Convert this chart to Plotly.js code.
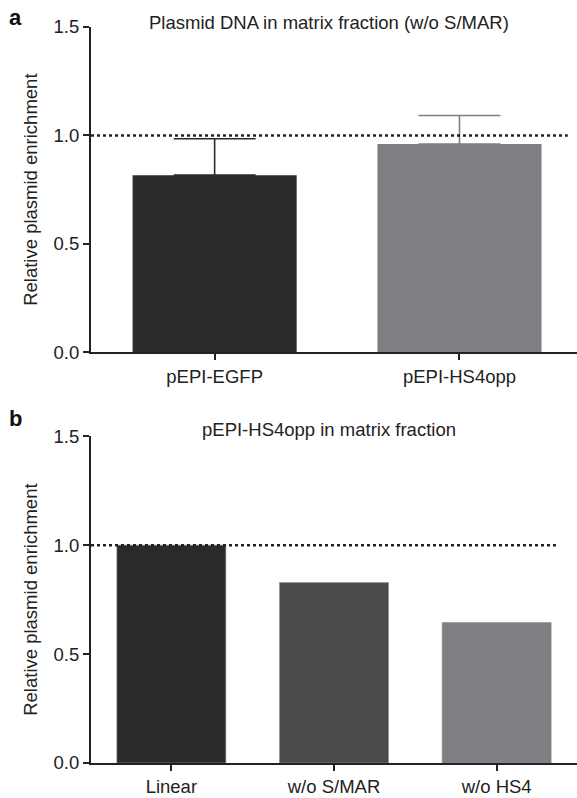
<!DOCTYPE html>
<html>
<head>
<meta charset="utf-8">
<script src="https://cdn.plot.ly/plotly-3.0.1.min.js"></script>
<style>html,body{margin:0;padding:0;background:#fff;}#chart{width:577px;height:798px;}</style>
</head>
<body>
<div id="chart"></div>
<script>
// Panel a data
const catsA = ["pEPI-EGFP", "pEPI-HS4opp"];
const valsA = [0.817, 0.960];
const errA = [0.168, 0.132];
const colorsA = ["#2b2a2c", "#7e7f83"];
const titleA = "Plasmid DNA in matrix fraction (w/o S/MAR)";

// Panel b data
const catsB = ["Linear", "w/o S/MAR", "w/o HS4"];
const valsB = [1.0, 0.828, 0.645];
const colorsB = ["#2a292b", "#4a4a4c", "#7f8084"];
const titleB = "pEPI-HS4opp in matrix fraction";

const refLine = 1.0;
const yTicks = [0, 0.5, 1.0, 1.5];
const yTickText = ["0.0", "0.5", "1.0", "1.5"];
const yTitle = "Relative plasmid enrichment";

const FONT = "Liberation Sans, Arial, Helvetica, sans-serif";
const INK = "#222";

const traces = [];
catsA.forEach((c, i) => {
  traces.push({
    type: "bar", x: [c], y: [valsA[i]], xaxis: "x", yaxis: "y",
    width: 0.67,
    marker: {color: colorsA[i], line: {color: colorsA[i], width: 0}},
    error_y: {type: "data", symmetric: false, array: [errA[i]], arrayminus: [0],
              color: colorsA[i], thickness: 1.6, width: 41},
    showlegend: false, hoverinfo: "skip"
  });
});
traces.push({
  type: "bar", x: catsB, y: valsB, xaxis: "x2", yaxis: "y2",
  width: 0.67,
  marker: {color: colorsB, line: {color: "#8a8a8c", width: 0.6}},
  showlegend: false, hoverinfo: "skip"
});

function xAx(range, anchor) {
  return {
    range: range, anchor: anchor, domain: [0, 1],
    showline: true, linecolor: INK, linewidth: 2,
    ticks: "outside", ticklen: 6, tickwidth: 2, tickcolor: INK,
    showgrid: false, zeroline: false, fixedrange: true,
    tickfont: {family: FONT, size: 18.5, color: INK}
  };
}
function yAx(domain, anchor) {
  return {
    range: [0, 1.5], domain: domain, anchor: anchor,
    tickvals: yTicks, ticktext: yTickText,
    showline: true, linecolor: INK, linewidth: 2,
    ticks: "outside", ticklen: 6, tickwidth: 2, tickcolor: INK,
    showgrid: false, zeroline: false, fixedrange: true,
    tickfont: {family: FONT, size: 18.5, color: INK},
    title: {text: yTitle, font: {family: FONT, size: 18.5, color: INK}, standoff: 11}
  };
}

const layout = {
  width: 577, height: 798,
  margin: {l: 91, r: 0, t: 27, b: 35},
  paper_bgcolor: "#fff", plot_bgcolor: "#fff",
  barmode: "overlay",
  xaxis: xAx([-0.505, 1.48], "y"),
  yaxis: yAx([0.558, 1.0], "x"),
  xaxis2: xAx([-0.494, 2.494], "y2"),
  yaxis2: yAx([0, 0.444], "x2"),
  shapes: [
    {type: "line", xref: "x domain", yref: "y", x0: 0, x1: 0.981, y0: refLine, y1: refLine,
     line: {color: INK, width: 2.5, dash: "dot"}, layer: "above"},
    {type: "line", xref: "x2 domain", yref: "y2", x0: 0, x1: 0.959, y0: refLine, y1: refLine,
     line: {color: INK, width: 2.5, dash: "dot"}, layer: "above"}
  ],
  annotations: [
    {text: "<b>a</b>", xref: "paper", yref: "paper", x: -0.172, y: 1.0, xanchor: "left", yanchor: "middle",
     yshift: 10, showarrow: false, font: {family: FONT, size: 22, color: "#111"}},
    {text: titleA, xref: "paper", yref: "paper", x: 0.49, y: 1.0, xanchor: "center", yanchor: "middle",
     yshift: 5, showarrow: false, font: {family: FONT, size: 18.5, color: INK}},
    {text: "<b>b</b>", xref: "paper", yref: "paper", x: -0.172, y: 0.444, xanchor: "left", yanchor: "middle",
     yshift: 18, showarrow: false, font: {family: FONT, size: 22, color: "#111"}},
    {text: titleB, xref: "paper", yref: "paper", x: 0.49, y: 0.444, xanchor: "center", yanchor: "middle",
     yshift: 7, showarrow: false, font: {family: FONT, size: 18.5, color: INK}}
  ]
};

Plotly.newPlot("chart", traces, layout, {displayModeBar: false, staticPlot: true});
</script>
</body>
</html>
